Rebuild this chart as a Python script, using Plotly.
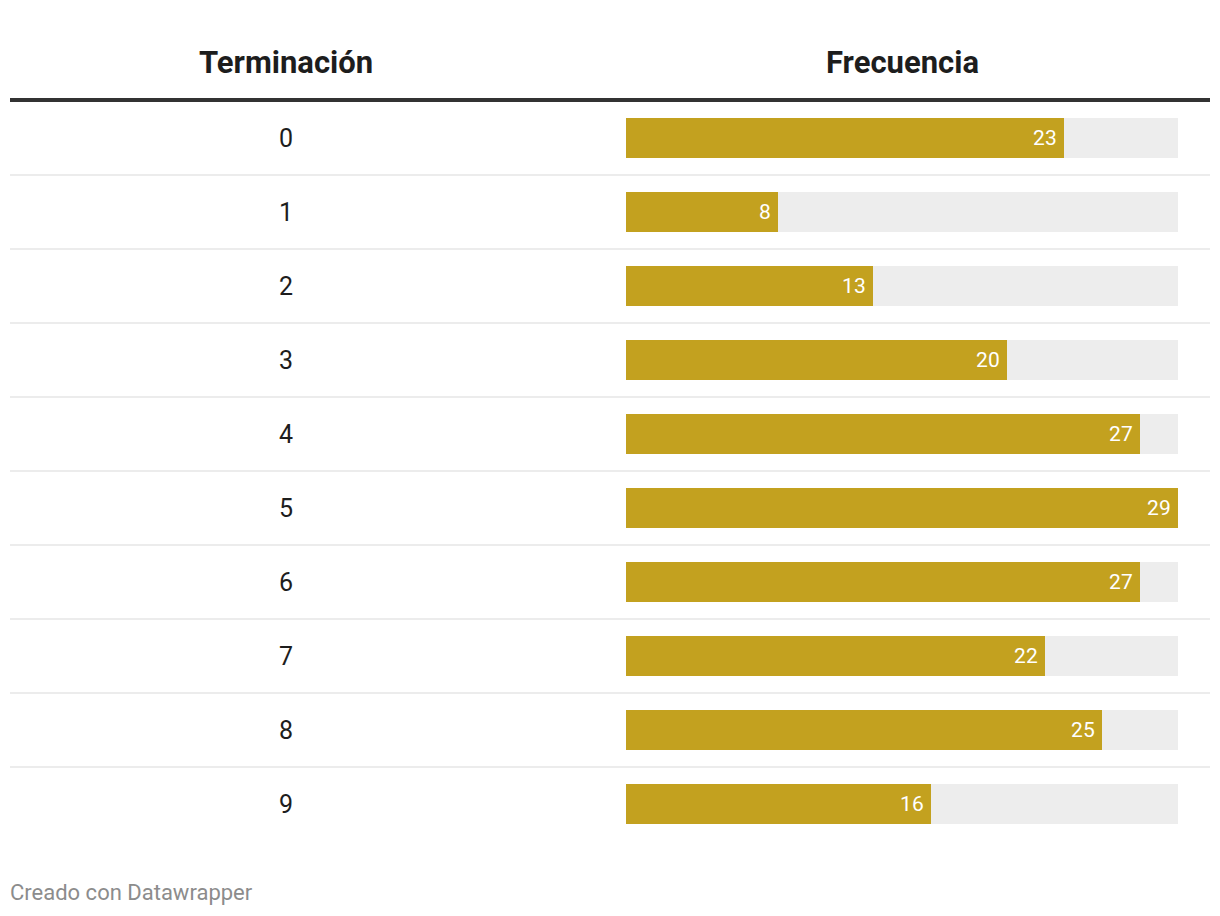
import plotly.graph_objects as go

terminaciones = ["0", "1", "2", "3", "4", "5", "6", "7", "8", "9"]
frecuencias = [23, 8, 13, 20, 27, 29, 27, 22, 25, 16]
max_valor = 29
col_titles = ["Terminación", "Frecuencia"]
footer = "Creado con Datawrapper"

W, H = 1220, 916
OFF = 8  # page body margin
GOLD = "#c3a11f"
GRAY = "#ededed"


def px(x):
    return (x - OFF) / W


def py(y):
    return (H - (y - OFF)) / H


fig = go.Figure()
fig.add_trace(go.Bar(
    y=terminaciones, x=[max_valor] * len(terminaciones), orientation="h",
    marker=dict(color=GRAY, line=dict(width=0)), width=0.54,
    hoverinfo="skip", showlegend=False,
))
fig.add_trace(go.Bar(
    y=terminaciones, x=frecuencias, orientation="h",
    marker=dict(color=GOLD, line=dict(width=0)), width=0.54,
    text=[str(v) + "\u2009" for v in frecuencias], textposition="inside",
    insidetextanchor="end", textangle=0,
    textfont=dict(family="Roboto", size=21, color="white"),
    cliponaxis=False, showlegend=False,
))

row_top, row_h = 101, 74
n = len(terminaciones)
y_bot = row_top + row_h * n
fig.update_layout(
    width=W, height=H, margin=dict(l=0, r=0, t=0, b=0),
    paper_bgcolor="white", plot_bgcolor="white",
    barmode="overlay", bargap=0,
    xaxis=dict(domain=[px(626), px(1178)], range=[0, max_valor],
               visible=False, fixedrange=True),
    yaxis=dict(domain=[py(y_bot), py(row_top)],
               type="category", categoryorder="array", categoryarray=terminaciones,
               range=[n - 0.5, -0.5], visible=False, fixedrange=True),
    font=dict(family="Roboto"),
    uniformtext=dict(minsize=10, mode="show"),
)

# row labels
for t in terminaciones:
    fig.add_annotation(x=px(286), xref="paper", y=t, yref="y", text=t,
                       showarrow=False, xanchor="center", yanchor="middle",
                       font=dict(family="Roboto", size=25, color="#1d1d1d"))

# separators
for i in range(n - 1):
    fig.add_shape(type="line", xref="paper", yref="y",
                  x0=px(10), x1=px(1210), y0=i + 0.5, y1=i + 0.5,
                  line=dict(color="#e6e6e6", width=1.5))

# header line
fig.add_shape(type="line", xref="paper", yref="paper",
              x0=px(10), x1=px(1210), y0=py(100), y1=py(100),
              line=dict(color="#333333", width=4))

# headers
for txt, xc in zip(col_titles, [286, 902]):
    fig.add_annotation(x=px(xc), xref="paper", y=py(63), yref="paper",
                       text="<b>" + txt + "</b>", showarrow=False,
                       xanchor="center", yanchor="middle",
                       font=dict(family="Roboto", size=31, color="#1d1d1d"))

fig.add_annotation(x=px(8), xref="paper", y=py(892), yref="paper",
                   text=footer, showarrow=False, xanchor="left", yanchor="middle",
                   font=dict(family="Roboto", size=22, color="#8c8c8c"))

fig.write_html("out.html", config={"displayModeBar": False})
